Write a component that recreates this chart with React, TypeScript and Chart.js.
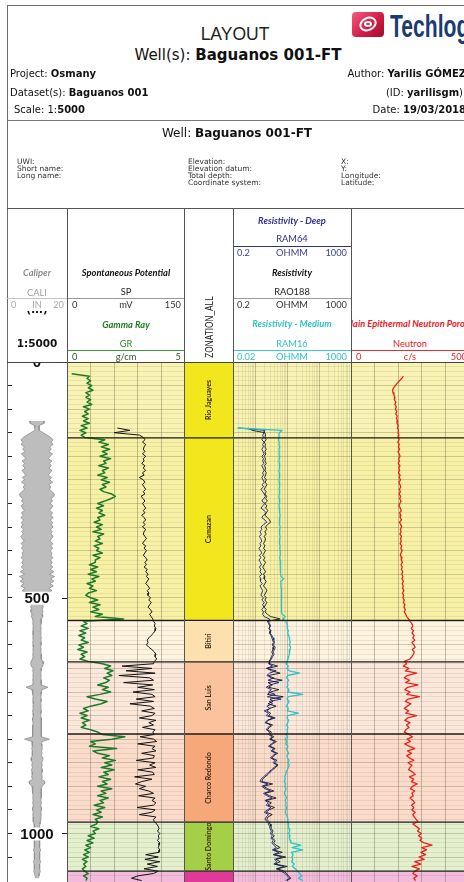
import React, { useEffect, useRef } from 'react';
import { Chart, registerables } from 'chart.js';

Chart.register(...registerables);

// ---------------- DATA ----------------
const DEPTH_MAX = 1103; // metres visible in the log area
const STEP = 5; // sample spacing (m)

const ZONE_NAMES = ['Rio Jaguayes', 'Camazan', 'Bitiri', 'San Luis', 'Charco Redondo', 'Santo Domingo', ''];
const ZONE_TOPS = [0, 161, 548, 636, 789, 976, 1080];
const ZONE_COLORS = ['#f2e61c', '#f2e61c', '#fde0ad', '#fbc39d', '#f6a87b', '#a5cf46', '#e0399a'];
const ZONE_TINTS = ['#f8f3b2', '#f7f1a6', '#fdf3df', '#fce7db', '#fbdccb', '#e3efcd', '#f3badb'];
const DEPTH_LABELS = [0, 500, 1000];

// Caliper (IN), from 125 m every 5 m
const CALI_TOP = 125;
const CALI = [
  5.6, 5.6, 1.8, 1.8, 1.6, 5.0, 8.0, 11.0, 12.8, 11.5,
  12.8, 10.0, 11.5, 9.5, 12.5, 10.5, 9.0, 12.0, 10.0, 11.5,
  9.5, 12.0, 10.5, 9.0, 11.8, 10.0, 12.5, 9.5, 11.0, 10.0,
  12.0, 14.0, 13.5, 11.0, 12.5, 10.5, 12.8, 11.5, 10.0, 12.5,
  11.0, 13.0, 10.5, 12.5, 11.5, 12.8, 10.8, 12.2, 11.0, 13.0,
  11.5, 10.2, 12.8, 11.0, 12.5, 10.5, 12.0, 11.2, 12.8, 10.8,
  12.2, 11.0, 12.6, 10.5, 13.5, 10.0, 14.0, 11.0, 13.5, 10.5,
  13.0, 9.5, 12.0, 7.5, 5.5, 7.5, 7.0, 5.0, 4.5, 5.0,
  4.2, 4.8, 4.0, 4.5, 3.6, 3.2, 3.4, 3.0, 3.3, 3.1,
  3.2, 3.0, 3.4, 3.1, 3.5, 3.2, 3.0, 3.3, 3.1, 3.4,
  3.2, 3.5, 4.8, 5.0, 4.6, 3.2, 3.4, 3.0, 3.3, 3.1,
  3.4, 3.2, 3.5, 8.8, 4.0, 3.6, 3.3, 3.1, 3.4, 3.2,
  3.0, 3.3, 3.1, 3.5, 3.2, 3.0, 3.4, 3.6, 3.2, 3.3,
  3.5, 3.8, 3.4, 3.6, 3.3, 10.0, 4.0, 3.6, 3.9, 4.2,
  3.7, 4.0, 3.5, 4.8, 4.6, 3.8, 4.2, 3.6, 4.4, 4.0,
  3.8, 4.3, 3.6, 6.4, 6.0, 4.0, 3.5, 3.3, 3.6, 3.2,
  3.4, 3.1, 3.5, 3.0, 3.3, 3.6, 3.1, 3.4, 3.0, 3.2,
  2.8, 2.4, 2.0, 2.2, 2.0, 3.2, 2.1, 2.0, 2.3, 2.0,
  2.2, 2.0, 2.9, 2.1, 2.0, 2.3, 2.0, 3.0, 2.1, 2.0,
  2.2, 2.6, 2.0, 1.6, 0.8,
];

// Gamma Ray (0-5), from 25 m every 5 m
const GR_TOP = 25;
const GR = [
  0.2, 0.95, 0.85, 1.0, 0.85, 1.05, 0.9, 1.1, 0.8, 0.95,
  0.8, 1.0, 0.85, 1.05, 0.7, 0.95, 0.75, 0.9, 0.65, 0.9,
  0.7, 0.95, 0.6, 0.85, 0.55, 0.8, 0.6, 0.75, 1.6, 1.35,
  1.75, 1.45, 1.8, 1.5, 1.7, 1.4, 1.85, 1.55, 1.65, 1.35,
  1.75, 1.5, 1.6, 1.3, 1.7, 1.45, 1.8, 1.5, 1.65, 1.4,
  1.55, 1.9, 2.05, 1.85, 1.6, 1.3, 1.55, 1.25, 1.5, 1.35,
  1.6, 1.3, 1.4, 1.15, 1.5, 1.25, 1.45, 1.1, 1.55, 1.3,
  1.4, 1.2, 1.5, 1.15, 1.35, 1.25, 1.5, 1.1, 1.4, 1.2,
  1.2, 0.95, 1.3, 1.0, 1.25, 0.9, 1.35, 1.05, 1.2, 0.85,
  1.1, 0.95, 1.25, 0.9, 0.8, 1.0, 1.3, 0.95, 1.4, 1.1,
  1.35, 1.0, 1.5, 1.2, 2.4, 0.7, 0.85, 0.6, 0.9, 0.55,
  0.8, 0.5, 0.75, 0.6, 0.9, 0.5, 0.7, 0.45, 0.85, 0.6,
  0.75, 0.55, 0.9, 1.5, 1.85, 1.6, 1.95, 1.7, 1.9, 1.55,
  1.8, 1.65, 1.3, 1.75, 1.5, 1.85, 1.4, 0.85, 1.2, 1.7,
  1.45, 1.0, 0.7, 0.9, 0.55, 0.85, 0.6, 0.95, 0.65, 0.8,
  0.6, 1.0, 1.3, 1.5, 2.45, 1.9, 1.0, 1.2, 0.95, 2.1,
  1.1, 1.3, 1.8, 1.5, 2.05, 1.6, 1.9, 1.45, 2.0, 1.55,
  1.75, 1.35, 1.85, 1.5, 1.7, 1.3, 1.9, 1.45, 1.65, 1.3,
  1.75, 1.4, 1.55, 1.15, 1.6, 1.25, 1.45, 1.1, 1.5, 1.2,
  1.3, 1.25, 1.0, 1.35, 1.1, 1.2, 0.9, 1.15, 0.85, 1.1,
  0.8, 1.0, 0.75, 0.95, 0.7, 0.9, 0.65, 0.85, 0.7, 0.8,
  0.65, 0.75, 0.9, 0.7, 0.85, 0.8,
];

// Spontaneous Potential (mV, 0-150), from 140 m every 5 m
const SP_TOP = 140;
const SP = [
  64, 80, 60, 92, 97, 99, 96, 100, 98, 97,
  99, 96, 100, 97, 98, 95, 99, 97, 100, 96,
  98, 92, 97, 99, 96, 98, 100, 97, 99, 94,
  97, 99, 96, 98, 100, 97, 99, 95, 98, 100,
  97, 99, 96, 100, 98, 97, 99, 101, 98, 96,
  100, 98, 101, 99, 97, 100, 102, 99, 101, 98,
  102, 100, 103, 101, 104, 102, 100, 103, 105, 102,
  104, 103, 106, 104, 107, 105, 103, 106, 108, 105,
  107, 109, 110, 112, 111, 113, 112, 110, 107, 104,
  102, 103, 101, 104, 108, 111, 113, 112, 114, 111,
  110, 70, 108, 75, 112, 66, 105, 110, 72, 109,
  90, 111, 84, 108, 112, 88, 110, 80, 106, 111,
  95, 112, 108, 92, 113, 104, 110, 96, 112, 109,
  111, 93, 110, 114, 90, 112, 108, 113, 95, 111,
  110, 88, 112, 105, 113, 90, 109, 111, 86, 108,
  95, 87, 100, 92, 104, 110, 91, 112, 108, 113,
  110, 89, 112, 108, 92, 113, 110, 111, 114, 116,
  117, 115, 118, 116, 117, 115, 118, 117, 116, 118,
  117, 100, 116, 99, 118, 102, 115, 98, 116, 110,
  90, 82, 95,
];

// Resistivities (OHMM), from 140 m every 5 m
const RES_TOP = 140;
const RAM64 = [
  0.3, 2.0, 1.9, 1.7, 1.8, 1.6, 1.9, 1.7, 1.8, 1.6,
  1.75, 1.9, 1.6, 1.8, 1.7, 1.85, 1.6, 1.75, 1.9, 1.7,
  1.8, 1.6, 1.75, 1.9, 1.65, 1.8, 1.5, 1.7, 1.9, 2.1,
  1.8, 1.6, 2.0, 1.7, 1.5, 1.9, 2.2, 1.8, 1.6, 2.0,
  2.3, 1.8, 1.5, 1.6, 1.4, 1.55, 1.35, 1.5, 1.6, 1.4,
  1.5, 1.3, 1.45, 1.6, 1.35, 1.5, 1.3, 1.45, 1.55, 1.35,
  1.5, 1.4, 1.6, 1.35, 1.5, 1.45, 1.65, 1.4, 1.55, 1.7,
  1.6, 1.5, 1.8, 1.6, 1.9, 1.7, 1.85, 1.6, 1.8, 1.7,
  1.9, 2.8, 2.6, 2.8, 3.0, 2.7, 3.1, 2.9, 3.3, 3.6,
  3.8, 4.0, 3.7, 4.2, 4.0, 3.6, 3.9, 3.5, 3.2, 2.8,
  2.6, 3.5, 2.2, 4.5, 2.8, 2.3, 3.8, 2.5, 5.5, 2.9,
  2.2, 3.2, 2.6, 4.2, 2.4, 6.5, 2.7, 3.5, 2.3, 2.9,
  1.9, 2.6, 2.2, 3.6, 2.4, 2.0, 3.1, 2.5, 2.2, 2.8,
  2.6, 3.4, 2.8, 4.0, 3.2, 2.6, 3.8, 3.1, 4.4, 3.5,
  3.0, 4.2, 3.6, 4.8, 3.9, 3.2, 2.6, 2.2, 1.8, 1.5,
  1.4, 2.5, 1.6, 2.0, 3.0, 1.8, 2.3, 3.4, 2.0, 2.6,
  2.2, 3.1, 2.4, 1.9, 2.6, 2.2, 2.0, 2.4, 2.6, 2.8,
  2.9, 3.2, 3.0, 3.4, 3.1, 3.6, 3.3, 3.8, 4.6, 3.4,
  5.5, 3.6, 7.0, 4.0, 4.8, 3.8, 8.0, 4.5, 6.5, 8.5,
  10, 12, 9,
];
const RAO188 = [
  0.6, 0.8, 2.0, 2.1, 2.0, 2.2, 1.9, 2.1, 2.0, 2.2,
  2.0, 2.15, 1.9, 2.1, 2.0, 2.2, 1.95, 2.1, 2.0, 2.2,
  2.1, 1.95, 2.2, 2.05, 2.3, 2.1, 1.9, 2.2, 2.0, 2.3,
  2.1, 2.4, 2.0, 2.3, 2.1, 2.5, 2.2, 2.0, 2.4, 2.8,
  3.0, 2.4, 2.1, 2.3, 2.0, 2.2, 1.9, 2.1, 2.0, 1.8,
  2.0, 1.8, 2.1, 1.9, 1.7, 2.0, 1.8, 2.1, 1.9, 1.7,
  1.9, 2.1, 1.8, 2.0, 1.9, 2.2, 2.0, 1.8, 2.1, 2.3,
  2.1, 1.9, 2.2, 2.0, 2.3, 2.1, 1.9, 2.2, 2.0, 2.4,
  3.0, 6.0, 2.4, 2.6, 2.9, 2.7, 3.0, 2.8, 3.1, 3.3,
  3.5, 3.7, 3.4, 3.8, 3.6, 3.3, 3.5, 3.2, 3.0, 2.7,
  2.8, 5.0, 2.4, 3.2, 6.0, 2.6, 3.0, 7.0, 2.5, 3.4,
  2.6, 5.5, 3.0, 2.4, 7.5, 2.9, 3.6, 2.5, 4.5, 2.8,
  2.3, 3.0, 2.6, 4.2, 2.5, 2.2, 3.5, 2.8, 2.4, 3.2,
  2.9, 3.8, 3.0, 4.6, 3.5, 2.9, 4.2, 3.4, 5.0, 3.8,
  3.3, 4.8, 4.0, 5.2, 4.3, 3.5, 2.9, 2.5, 2.0, 1.7,
  1.6, 3.5, 1.8, 2.4, 3.8, 2.0, 2.8, 4.5, 2.2, 3.2,
  2.5, 4.0, 2.7, 2.2, 3.4, 2.5, 2.3, 2.7, 2.9, 3.1,
  3.2, 3.6, 3.3, 3.9, 3.4, 4.2, 3.7, 4.5, 6.0, 3.8,
  7.0, 4.0, 9.0, 4.5, 6.0, 4.2, 10.0, 5.0, 8.0, 9.5,
  11, 13, 10,
];
const RAM16 = [
  0.03, 1.8, 1.4, 1.35, 1.4, 1.3, 1.4, 1.35, 1.45, 1.35,
  1.4, 1.35, 1.45, 1.4, 1.35, 1.4, 1.45, 1.4, 1.35, 1.4,
  1.45, 1.4, 1.35, 1.4, 1.45, 1.4, 1.35, 1.45, 1.4, 1.35,
  1.4, 1.45, 1.4, 1.35, 1.4, 1.45, 1.4, 1.5, 1.45, 1.4,
  1.45, 1.4, 1.5, 1.45, 1.4, 1.45, 1.5, 1.45, 1.4, 1.45,
  1.5, 1.45, 1.5, 1.55, 1.5, 1.45, 1.5, 1.55, 1.5, 1.55,
  1.6, 1.55, 1.6, 1.65, 2.1, 1.6, 1.65, 1.6, 1.7, 1.65,
  1.7, 1.65, 1.7, 1.75, 1.7, 1.65, 1.7, 1.75, 1.7, 1.8,
  2.4, 1.9, 2.5, 2.8, 3.0, 2.9, 3.2, 3.0, 3.3, 3.5,
  3.6, 3.8, 3.5, 3.9, 3.7, 3.4, 3.6, 3.3, 3.1, 2.9,
  2.6, 3.2, 2.8, 3.5, 9.0, 3.0, 2.7, 3.3, 2.9, 3.1,
  2.8, 3.4, 3.0, 12.0, 3.2, 2.8, 3.5, 3.0, 2.7, 3.2,
  2.9, 8.0, 3.1, 2.8, 3.3, 3.0, 2.7, 3.1, 2.8, 3.0,
  2.6, 3.0, 2.4, 2.8, 2.5, 3.1, 2.7, 2.9, 3.3, 2.8,
  3.0, 3.4, 3.1, 3.5, 3.2, 2.9, 2.6, 2.5, 2.3, 2.4,
  2.2, 2.5, 2.3, 2.6, 2.4, 2.2, 2.5, 2.7, 2.4, 2.6,
  2.5, 2.7, 2.6, 2.4, 2.7, 2.9, 3.1, 3.0, 3.3, 3.2,
  3.4, 3.6, 3.3, 3.7, 3.5, 3.8, 4.0, 10.0, 4.5, 12.0,
  4.2, 5.0, 4.4, 4.8, 4.3, 5.5, 4.6, 6.0, 7.5, 9.0,
  11, 8, 12,
];

// Neutron (c/s, 0-500), from 30 m every 5 m
const NEU_TOP = 30;
const NEUTRON = [
  222, 215, 205, 196, 188, 180, 176, 178, 182, 186,
  184, 190, 186, 192, 188, 194, 190, 196, 193, 198,
  195, 200, 197, 201, 199, 203, 200, 204, 198, 205,
  201, 206, 199, 204, 208, 202, 205, 200, 207, 203,
  206, 201, 208, 204, 210, 203, 207, 211, 205, 209,
  204, 210, 206, 212, 207, 203, 209, 213, 206, 211,
  208, 214, 205, 211, 215, 209, 212, 207, 214, 210,
  213, 208, 215, 211, 217, 212, 209, 216, 213, 218,
  212, 217, 214, 219, 215, 220, 216, 222, 217, 221,
  219, 224, 218, 223, 220, 226, 222, 228, 224, 230,
  226, 232, 236, 244, 250, 258, 262, 255, 265, 258,
  268, 262, 270, 258, 266, 272, 260, 268, 264, 258,
  250, 226, 236, 222, 245, 230, 278, 238, 226, 248,
  232, 284, 240, 228, 250, 236, 290, 242, 230, 254,
  238, 226, 244, 232, 278, 240, 228, 250, 235, 246,
  232, 226, 245, 260, 238, 252, 228, 246, 270, 240,
  256, 236, 248, 266, 242, 258, 250, 244, 262, 272,
  248, 266, 256, 280, 260, 252, 270, 258, 264, 250,
  262, 270, 256, 266, 258, 272, 262, 268, 276, 284,
  262, 276, 290, 282, 298, 286, 300, 292, 310, 343,
  300, 320, 296, 316, 288, 310, 270, 296, 258, 290,
  270, 262, 280, 266, 274,
];

// ---------------- STYLE ----------------
const SANS = '"Liberation Sans", Arial, sans-serif';
const VER = '"DejaVu Sans", Verdana, sans-serif';
const CAL = 'Lato, "Open Sans", sans-serif';
const GRID_MIN = 'rgba(120,110,80,0.13)';
const GRID_MAJ = 'rgba(100,95,70,0.30)';
const VGRID = 'rgba(100,95,70,0.38)';
const VGRID_MIN = 'rgba(100,95,70,0.12)';

const pts = (vals: number[], top: number, f = (v: number) => v) =>
  vals.map((v, i) => ({ x: f(v), y: top + i * STEP }));

const yScale = (grid: boolean) => ({
  type: 'linear', reverse: true, min: 0, max: DEPTH_MAX, display: grid,
  ticks: { display: false, stepSize: 10 },
  grid: { drawTicks: false, lineWidth: 1, color: (c: any) => (c.tick && c.tick.value % 50 === 0 ? GRID_MAJ : GRID_MIN) },
  border: { display: false },
});

const zoneFills = (colors: string[], xMin: number, xMax: number) =>
  ZONE_TOPS.map((top, i) => ({
    data: [{ x: xMax, y: top }, { x: xMax, y: i + 1 < ZONE_TOPS.length ? ZONE_TOPS[i + 1] : DEPTH_MAX }],
    borderWidth: 0, borderColor: 'rgba(0,0,0,0)', backgroundColor: colors[i],
    fill: { value: xMin }, pointRadius: 0, xAxisID: 'x', yAxisID: 'y', order: 9,
  }));

const zoneLines = (xMin: number, xMax: number) =>
  ZONE_TOPS.slice(1).map((top) => ({
    data: [{ x: xMin, y: top }, { x: xMax, y: top }],
    borderColor: '#1b1b1b', borderWidth: 1.4, backgroundColor: 'rgba(0,0,0,0)',
    fill: false, pointRadius: 0, xAxisID: 'x', yAxisID: 'y', order: 0,
  }));

const curve = (data: any[], color: string, width = 1, xAxisID = 'x') => ({
  data, borderColor: color, borderWidth: width, backgroundColor: 'rgba(0,0,0,0)',
  fill: false, pointRadius: 0, xAxisID, yAxisID: 'y', order: 1, borderJoinStyle: 'round',
});

const baseOptions = (scales: any, padding: any = 0) => ({
  indexAxis: 'y', animation: false, responsive: false, maintainAspectRatio: false, events: [],
  layout: { padding },
  elements: { point: { radius: 0 }, line: { tension: 0 } },
  plugins: { legend: { display: false }, tooltip: { enabled: false }, filler: { drawTime: 'beforeDraw' } },
  scales,
});

// depth numbers (centred in the track) and the short right-hand ticks beside them
const depthLabelPlugin = {
  id: 'depthLabels',
  afterDraw(chart: any) {
    const ys = chart.scales.y;
    const a = chart.chartArea;
    const ctx = chart.ctx;
    const cx = (a.left + a.right) / 2;
    ctx.save();
    ctx.font = 'bold 15px "Liberation Sans", Arial, sans-serif';
    ctx.textAlign = 'center';
    ctx.textBaseline = 'middle';
    DEPTH_LABELS.forEach((v) => {
      const y = ys.getPixelForValue(v);
      const t = String(v);
      const w = ctx.measureText(t).width;
      ctx.fillStyle = '#ffffff';
      ctx.fillRect(cx - w / 2 - 1, y - 6, w + 2, 13);
      ctx.fillStyle = '#111111';
      ctx.fillText(t, cx, y + 1);
      ctx.strokeStyle = '#222222';
      ctx.lineWidth = 1;
      ctx.beginPath();
      ctx.moveTo(a.right, Math.round(y) + 0.5);
      ctx.lineTo(chart.width, Math.round(y) + 0.5);
      ctx.stroke();
    });
    ctx.restore();
  },
};

const zoneLabelPlugin = {
  id: 'zoneLabels',
  afterDatasetsDraw(chart: any) {
    const ys = chart.scales.y;
    const a = chart.chartArea;
    const ctx = chart.ctx;
    const cx = (a.left + a.right) / 2;
    ctx.save();
    ctx.font = 'bold 7px Lato, "Open Sans", sans-serif';
    ctx.fillStyle = '#3a2c16';
    ctx.textAlign = 'center';
    ctx.textBaseline = 'middle';
    ZONE_NAMES.forEach((n, i) => {
      if (!n) return;
      const top = ZONE_TOPS[i];
      const bot = i + 1 < ZONE_TOPS.length ? ZONE_TOPS[i + 1] : DEPTH_MAX;
      const y = (ys.getPixelForValue(top) + ys.getPixelForValue(bot)) / 2;
      ctx.save();
      ctx.translate(cx, y);
      ctx.rotate(-Math.PI / 2);
      ctx.fillText(n, 0, 0);
      ctx.restore();
    });
    ctx.restore();
  },
};

const logGridColor = (c: any) => {
  const v = c.tick && c.tick.value;
  if (!v) return 'rgba(0,0,0,0)';
  const e = Math.log10(v);
  if (Math.abs(e - Math.round(e)) < 1e-6) return VGRID;
  const m = v / Math.pow(10, Math.floor(e + 1e-9));
  return Math.abs(m - Math.round(m)) < 1e-6 ? VGRID_MIN : 'rgba(0,0,0,0)';
};

// ---------------- CHART CONFIGS ----------------
const depthConfig = (): any => ({
  type: 'line',
  data: {
    datasets: [
      { data: pts(CALI, CALI_TOP, (v) => v / 2), borderColor: '#8f8f8f', borderWidth: 0.8, backgroundColor: '#bdbdbd', fill: { value: 0 }, pointRadius: 0, xAxisID: 'x', yAxisID: 'y' },
      { data: pts(CALI, CALI_TOP, (v) => -v / 2), borderColor: '#8f8f8f', borderWidth: 0.8, backgroundColor: '#bdbdbd', fill: { value: 0 }, pointRadius: 0, xAxisID: 'x', yAxisID: 'y' },
    ],
  },
  options: baseOptions({
    x: { type: 'linear', min: -10, max: 10, display: false },
    y: {
      type: 'linear', reverse: true, min: 0, max: DEPTH_MAX, position: 'left',
      ticks: { display: false, stepSize: 50 },
      grid: { drawOnChartArea: false, drawTicks: true, tickLength: 5, tickColor: '#222', lineWidth: 1 },
      border: { display: false },
    },
  }, { left: 0, right: 5, top: 0, bottom: 0 }),
  plugins: [depthLabelPlugin],
});

const spConfig = (): any => ({
  type: 'line',
  data: {
    datasets: [
      ...zoneFills(ZONE_TINTS, 0, 150),
      curve(pts(SP, SP_TOP), '#141414', 1),
      curve(pts(GR, GR_TOP), '#1d7a2b', 1.5, 'x2'),
      ...zoneLines(0, 150),
    ],
  },
  options: baseOptions({
    x: { type: 'linear', min: 0, max: 150, ticks: { display: false, stepSize: 30 }, grid: { drawTicks: false, color: VGRID }, border: { display: false } },
    x2: { type: 'linear', axis: 'x', min: 0, max: 5, display: false },
    y: yScale(true),
  }),
});

const zoneConfig = (): any => ({
  type: 'line',
  data: { datasets: [...zoneFills(ZONE_COLORS, 0, 1), ...zoneLines(0, 1)] },
  options: baseOptions({
    x: { type: 'linear', min: 0, max: 1, display: false },
    y: yScale(false),
  }),
  plugins: [zoneLabelPlugin],
});

const resConfig = (): any => ({
  type: 'line',
  data: {
    datasets: [
      ...zoneFills(ZONE_TINTS, 0.2, 1000),
      curve(pts(RAM16, RES_TOP), '#2cc4c6', 1.3, 'x2'),
      curve(pts(RAO188, RES_TOP), '#161616', 0.9),
      curve(pts(RAM64, RES_TOP), '#2a2f95', 1),
      ...zoneLines(0.2, 1000),
    ],
  },
  options: baseOptions({
    x: { type: 'logarithmic', min: 0.2, max: 1000, ticks: { display: false }, grid: { drawTicks: false, color: logGridColor }, border: { display: false } },
    x2: { type: 'logarithmic', axis: 'x', min: 0.02, max: 1000, display: false },
    y: yScale(true),
  }),
});

const neuConfig = (): any => ({
  type: 'line',
  data: {
    datasets: [
      ...zoneFills(ZONE_TINTS, 0, 500),
      curve(pts(NEUTRON, NEU_TOP), '#e8231c', 1.3),
      ...zoneLines(0, 500),
    ],
  },
  options: baseOptions({
    x: { type: 'linear', min: 0, max: 500, ticks: { display: false, stepSize: 100 }, grid: { drawTicks: false, color: VGRID }, border: { display: false } },
    y: yScale(true),
  }),
});

// ---------------- LAYOUT HELPERS ----------------
const Tx = ({ x, y, a = 'c', f = VER, s = 10, w = 300, c = '#111', b = false, i = false, children, style }: any) => {
  const left = a === 'c' ? x - w / 2 : a === 'r' ? x - w : x;
  return (
    <div
      style={{
        position: 'absolute', left, top: y - 10, width: w, height: 20, lineHeight: '20px',
        textAlign: a === 'c' ? 'center' : a === 'r' ? 'right' : 'left', whiteSpace: 'nowrap',
        fontFamily: f, fontSize: s, color: c, fontWeight: b ? 700 : 400, fontStyle: i ? 'italic' : 'normal',
        ...style,
      }}
    >
      {children}
    </div>
  );
};
const Ln = ({ x, y, w = 1, h = 1, c = '#555' }: any) => (
  <div style={{ position: 'absolute', left: x, top: y, width: w, height: h, background: c }} />
);
const Cv = ({ r, x, w }: any) => (
  <canvas ref={r} width={w} height={520} style={{ position: 'absolute', left: x, top: 362, width: w, height: 520, display: 'block' }} />
);

export default function App() {
  const dRef = useRef<HTMLCanvasElement>(null);
  const sRef = useRef<HTMLCanvasElement>(null);
  const zRef = useRef<HTMLCanvasElement>(null);
  const rRef = useRef<HTMLCanvasElement>(null);
  const nRef = useRef<HTMLCanvasElement>(null);

  useEffect(() => {
    const charts: Chart[] = [];
    const pairs: any[] = [
      [dRef, depthConfig], [sRef, spConfig], [zRef, zoneConfig], [rRef, resConfig], [nRef, neuConfig],
    ];
    pairs.forEach(([ref, cfg]) => {
      if (ref.current) charts.push(new Chart(ref.current, cfg()));
    });
    return () => charts.forEach((c) => c.destroy());
  }, []);

  const small = 9.3;
  const uwi = 7.5;
  return (
    <div style={{ position: 'fixed', left: 0, top: 0, width: 464, height: 882, overflow: 'hidden', background: '#fff' }}>
      {/* charts */}
      <Cv r={dRef} x={7} w={60} />
      <Cv r={sRef} x={67} w={118} />
      <Cv r={zRef} x={185} w={48} />
      <Cv r={rRef} x={233} w={118} />
      <Cv r={nRef} x={351} w={118} />

      {/* frame */}
      <Ln x={7} y={5} w={457} c="#6a6a6a" />
      <Ln x={7} y={5} w={1} h={877} c="#6a6a6a" />

      {/* title block */}
      <Tx x={235} y={34} f={SANS} s={17.5} c="#222">LAYOUT</Tx>
      <div style={{ position: 'absolute', left: 352, top: 12, width: 32, height: 25, borderRadius: 4, background: 'linear-gradient(135deg,#f45a82 0%,#d41d47 55%,#a00c2b 100%)', overflow: 'hidden' }}>
        <div style={{ position: 'absolute', left: 7, top: 5, width: 18, height: 14, border: '2.5px solid #fff', borderRadius: '50%', transform: 'rotate(-25deg)', boxSizing: 'border-box' }} />
        <div style={{ position: 'absolute', left: 12, top: 9, width: 8, height: 6, border: '2px solid #fff', borderRadius: '50%', boxSizing: 'border-box' }} />
      </div>
      <div style={{ position: 'absolute', left: 390, top: 7, fontFamily: SANS, fontSize: 32, fontWeight: 700, color: '#1a3c70', lineHeight: '38px', transform: 'scaleX(0.66)', transformOrigin: 'left center', whiteSpace: 'nowrap' }}>Techlog</div>
      <Tx x={238} y={55} s={15} c="#111">Well(s): <b>Baguanos 001-FT</b></Tx>
      <Tx x={10} y={74} a="l">Project: <b>Osmany</b></Tx>
      <Tx x={10} y={93} a="l">Dataset(s): <b>Baguanos 001</b></Tx>
      <Tx x={14} y={110} a="l">Scale: 1:<b>5000</b></Tx>
      <Tx x={466} y={74} a="r">Author: <b>Yarilis GÓMEZ</b></Tx>
      <Tx x={463} y={93} a="r">(ID: <b>yarilisgm</b>)</Tx>
      <Tx x={466} y={110} a="r">Date: <b>19/03/2018</b></Tx>
      <Ln x={7} y={120} w={457} c="#777" />

      {/* well block */}
      <Tx x={237} y={133} s={12}>Well: <b>Baguanos 001-FT</b></Tx>
      <Tx x={17} y={162} a="l" s={uwi} c="#333">UWI:</Tx>
      <Tx x={17} y={169} a="l" s={uwi} c="#333">Short name:</Tx>
      <Tx x={17} y={176} a="l" s={uwi} c="#333">Long name:</Tx>
      <Tx x={188} y={162} a="l" s={uwi} c="#333">Elevation:</Tx>
      <Tx x={188} y={169} a="l" s={uwi} c="#333">Elevation datum:</Tx>
      <Tx x={188} y={176} a="l" s={uwi} c="#333">Total depth:</Tx>
      <Tx x={188} y={183} a="l" s={uwi} c="#333">Coordinate system:</Tx>
      <Tx x={341} y={162} a="l" s={uwi} c="#333">X:</Tx>
      <Tx x={341} y={169} a="l" s={uwi} c="#333">Y:</Tx>
      <Tx x={341} y={176} a="l" s={uwi} c="#333">Longitude:</Tx>
      <Tx x={341} y={183} a="l" s={uwi} c="#333">Latitude:</Tx>
      <Ln x={7} y={208} w={457} c="#555" />

      {/* depth / caliper header */}
      <Tx x={37} y={273} w={60} f={CAL} s={small} b i c="#8c8c8c">Caliper</Tx>
      <Tx x={37} y={293} w={60} f={CAL} s={small} c="#a0a0a0">CALI</Tx>
      <Ln x={7} y={298} w={60} c="#c4c4c4" />
      <Tx x={11} y={305} a="l" w={20} f={CAL} s={small} c="#a8a8a8">0</Tx>
      <Tx x={37} y={305} w={30} f={CAL} s={small} c="#a8a8a8">IN</Tx>
      <Tx x={64} y={305} a="r" w={20} f={CAL} s={small} c="#a8a8a8">20</Tx>
      <div style={{ position: 'absolute', left: 7, top: 311, width: 60, height: 6, overflow: 'hidden' }}>
        <div style={{ position: 'absolute', left: 0, top: -8, width: 60, textAlign: 'center', fontFamily: VER, fontWeight: 700, fontSize: 11, lineHeight: '14px', color: '#111' }}>(m)</div>
      </div>
      <Tx x={37} y={343} w={60} s={10.5} b c="#111">1:5000</Tx>

      {/* SP / GR header */}
      <Tx x={126} y={273} w={118} f={CAL} s={small} b i c="#111">Spontaneous Potential</Tx>
      <Tx x={126} y={292} w={118} f={CAL} s={small} c="#222">SP</Tx>
      <Ln x={67} y={298} w={118} c="#9a9a9a" />
      <Tx x={72} y={305} a="l" w={30} f={CAL} s={small} c="#333">0</Tx>
      <Tx x={126} y={305} w={40} f={CAL} s={small} c="#333">mV</Tx>
      <Tx x={181} y={305} a="r" w={30} f={CAL} s={small} c="#333">150</Tx>
      <Tx x={126} y={325} w={118} f={CAL} s={small} b i c="#1e7b1e">Gamma Ray</Tx>
      <Tx x={126} y={344} w={118} f={CAL} s={small} c="#2a8a2a">GR</Tx>
      <Ln x={67} y={350} w={118} c="#3a9a3a" />
      <Tx x={72} y={357} a="l" w={30} f={CAL} s={small} c="#2f4f2f">0</Tx>
      <Tx x={126} y={357} w={40} f={CAL} s={small} c="#2f4f2f">g/cm</Tx>
      <Tx x={181} y={357} a="r" w={30} f={CAL} s={small} c="#2f4f2f">5</Tx>

      {/* zonation header */}
      <div style={{ position: 'absolute', left: 209 - 50, top: 327 - 7, width: 100, height: 14, lineHeight: '14px', textAlign: 'center', fontFamily: SANS, fontSize: 11.5, color: '#222', transform: 'rotate(-90deg) scaleX(0.72)', whiteSpace: 'nowrap' }}>ZONATION_ALL</div>

      {/* resistivity header */}
      <Tx x={292} y={221} w={118} f={CAL} s={small} b i c="#2e3192">Resistivity - Deep</Tx>
      <Tx x={292} y={239} w={118} f={CAL} s={small} c="#2e3192">RAM64</Tx>
      <Ln x={233} y={246} w={118} c="#2e3192" />
      <Tx x={237} y={253} a="l" w={30} f={CAL} s={small} c="#3b3f8f">0.2</Tx>
      <Tx x={292} y={253} w={40} f={CAL} s={small} c="#3b3f8f">OHMM</Tx>
      <Tx x={347} y={253} a="r" w={30} f={CAL} s={small} c="#3b3f8f">1000</Tx>
      <Tx x={292} y={273} w={118} f={CAL} s={small} b i c="#111">Resistivity</Tx>
      <Tx x={292} y={292} w={118} f={CAL} s={small} c="#222">RAO188</Tx>
      <Ln x={233} y={298} w={118} c="#9a9a9a" />
      <Tx x={237} y={305} a="l" w={30} f={CAL} s={small} c="#333">0.2</Tx>
      <Tx x={292} y={305} w={40} f={CAL} s={small} c="#333">OHMM</Tx>
      <Tx x={347} y={305} a="r" w={30} f={CAL} s={small} c="#333">1000</Tx>
      <Tx x={292} y={324} w={118} f={CAL} s={small} b i c="#33c3c3">Resistivity - Medium</Tx>
      <Tx x={292} y={344} w={118} f={CAL} s={small} c="#33c3c3">RAM16</Tx>
      <Ln x={233} y={350} w={118} c="#40c8c8" />
      <Tx x={237} y={357} a="l" w={30} f={CAL} s={small} c="#33c3c3">0.02</Tx>
      <Tx x={292} y={357} w={40} f={CAL} s={small} c="#33c3c3">OHMM</Tx>
      <Tx x={347} y={357} a="r" w={30} f={CAL} s={small} c="#33c3c3">1000</Tx>

      {/* neutron header */}
      <div style={{ position: 'absolute', left: 352, top: 314, width: 112, height: 20, overflow: 'hidden' }}>
        <Tx x={60} y={10} w={220} f={CAL} s={small} b i c="#e8201e">Main Epithermal Neutron Porosity</Tx>
      </div>
      <Tx x={410} y={344} w={118} f={CAL} s={small} c="#e8201e">Neutron</Tx>
      <Ln x={351} y={350} w={113} c="#e03030" />
      <Tx x={356} y={357} a="l" w={30} f={CAL} s={small} c="#e8201e">0</Tx>
      <Tx x={410} y={357} w={40} f={CAL} s={small} c="#e8201e">c/s</Tx>
      <Tx x={467} y={357} a="r" w={30} f={CAL} s={small} c="#e8201e">500</Tx>

      {/* header bottom + track separators */}
      <Ln x={7} y={362} w={457} c="#444" />
      <Ln x={67} y={208} w={1} h={674} c="#555" />
      <Ln x={184} y={208} w={1} h={674} c="#555" />
      <Ln x={233} y={208} w={1} h={674} c="#555" />
      <Ln x={351} y={208} w={1} h={674} c="#555" />
    </div>
  );
}
